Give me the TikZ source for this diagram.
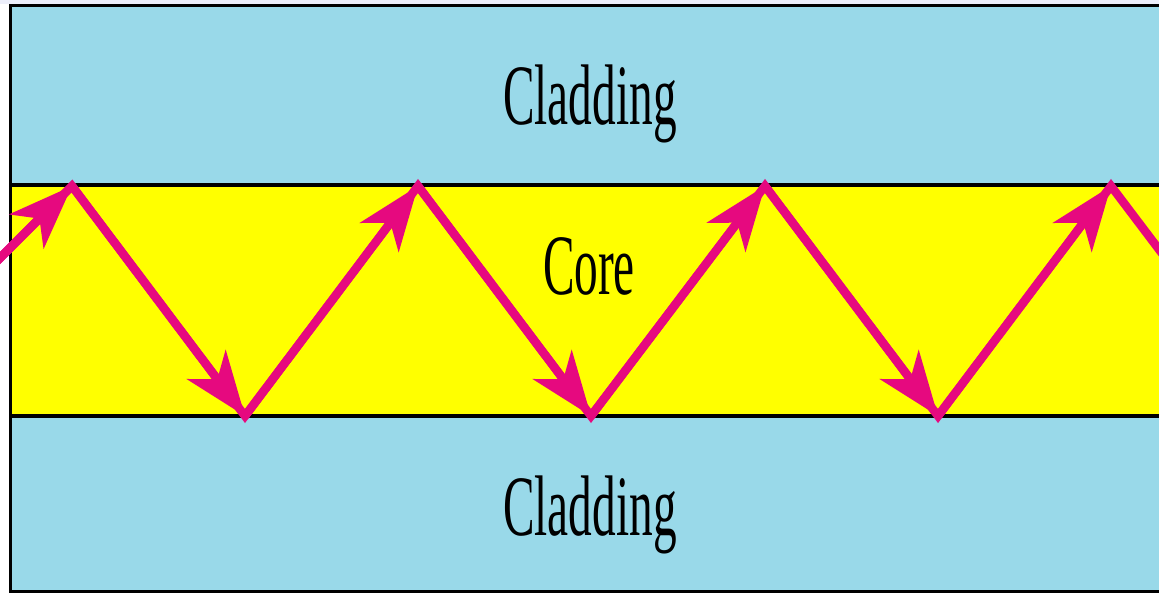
\documentclass[tikz,border=0pt]{standalone}
\usepackage{fontspec}
\setmainfont{Liberation Serif}
\usetikzlibrary{arrows.meta}
\definecolor{cladcol}{HTML}{99D9E9}
\definecolor{corecol}{HTML}{FFFF00}
\definecolor{raycol}{HTML}{E6097F}
\definecolor{bandcol}{HTML}{ECEEFA}
\tikzset{
  lab/.style={anchor=base, inner sep=0pt, font=\fontsize{86}{86}\selectfont},
  ray/.style={draw=raycol, line width=8.5pt, line join=miter, miter limit=10},
  rayarrow/.style={ray, -{Stealth[length=64pt, width=48pt, inset=18pt, line join=miter]}},
  boundary/.style={line width=3.5pt}
}
\begin{document}
\begin{tikzpicture}[x=1pt, y=-1pt]
\useasboundingbox (0,0) rectangle (1159,593);
\fill[white] (0,0) rectangle (1159,593);
\fill[bandcol] (0,0) rectangle (1159,4.5);
\fill[cladcol] (10.5,6) rectangle (1170,185);
\fill[corecol] (10.5,185) rectangle (1170,416);
\fill[cladcol] (10.5,416) rectangle (1170,591);
\draw[boundary] (10.5,185) -- (1170,185);
\draw[boundary] (10.5,416) -- (1170,416);
\draw[line width=3pt] (1170,6) -- (10.5,6) -- (10.5,591) -- (1170,591);

\node[lab] (cladtop) at (590,125) {\scalebox{0.55}[1]{Cladding}};
\node[lab] (core) at (589,295) {\scalebox{0.55}[1]{Core}};
\node[lab] (cladbot) at (590,535) {\scalebox{0.55}[1]{Cladding}};

\coordinate (in) at (-4,262);
\coordinate (t1) at (72,186);
\coordinate (b1) at (245,416);
\coordinate (t2) at (418,186);
\coordinate (b2) at (591,416);
\coordinate (t3) at (765,186);
\coordinate (b3) at (938,416);
\coordinate (t4) at (1111,186);
\coordinate (out) at (1170,264);

\draw[ray] (in) -- (t1) -- (b1) -- (t2) -- (b2) -- (t3) -- (b3) -- (t4) -- (out);
\draw[rayarrow] (in) -- (t1);
\draw[rayarrow] (t1) -- (b1);
\draw[rayarrow] (b1) -- (t2);
\draw[rayarrow] (t2) -- (b2);
\draw[rayarrow] (b2) -- (t3);
\draw[rayarrow] (t3) -- (b3);
\draw[rayarrow] (b3) -- (t4);
\end{tikzpicture}
\end{document}
